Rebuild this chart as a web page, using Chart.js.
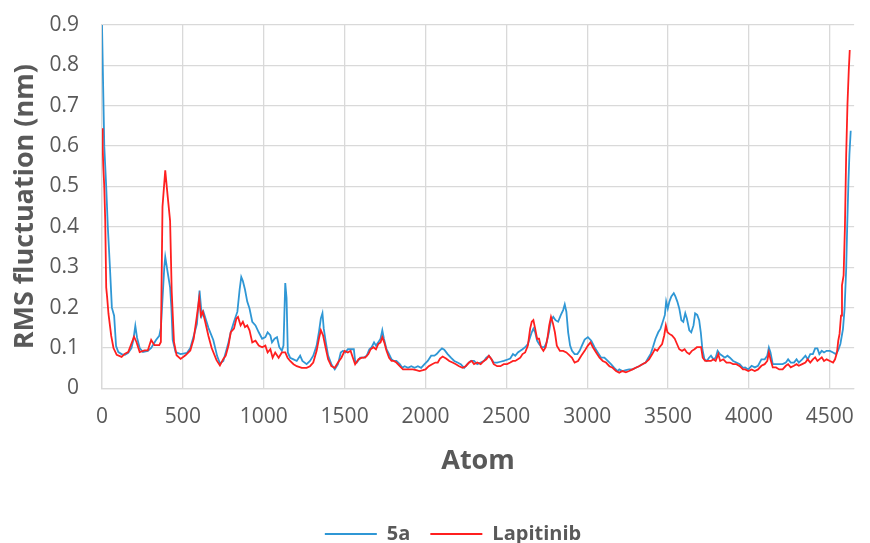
<!DOCTYPE html>
<html>
<head>
<meta charset="utf-8">
<title>RMS fluctuation</title>
<script src="https://cdn.jsdelivr.net/npm/chart.js@4.4.1/dist/chart.umd.min.js"></script>
<style>
  html, body { margin: 0; padding: 0; background: #ffffff; }
  .wrap { position: relative; width: 870px; height: 543px; }
</style>
</head>
<body>
<div class="wrap"><canvas id="rmsfChart"></canvas></div>
<script>
// RMSF per atom
const atoms5a = [
  0, 14, 26, 36, 49, 61, 75, 87, 101, 121, 142, 162, 182, 194, 206, 217, 233, 253, 283, 304,
  334, 354, 364, 374, 385, 391, 405, 409, 421, 429, 437, 455, 486, 526, 546, 567, 587, 603, 617, 627,
  658, 688, 712, 729, 750,
  765, 782, 796, 816, 837, 851, 861, 871, 884, 898, 912, 929, 949, 969, 990, 1010, 1024, 1041, 1051, 1067,
  1082, 1096, 1112, 1122, 1133, 1141, 1149, 1163, 1184, 1204, 1225, 1239, 1265, 1286, 1306, 1327, 1341, 1353, 1363, 1371,
  1384, 1398, 1418, 1439, 1459, 1476, 1490, 1504, 1520, 1541, 1557,
  1565, 1575, 1596, 1616, 1637, 1653, 1667, 1682, 1694, 1708, 1722, 1733, 1743, 1759, 1775, 1790, 1804, 1820, 1841, 1857,
  1871, 1892, 1912, 1933, 1953, 1973, 1994, 2014, 2035, 2055, 2069, 2086, 2102, 2116, 2137, 2157, 2178, 2198, 2218, 2239,
  2259, 2280, 2300, 2320, 2341, 2361, 2376, 2392,
  2408, 2422, 2443, 2463, 2484, 2504, 2524, 2541, 2555, 2571, 2586, 2600, 2616, 2633, 2647, 2657, 2667, 2678, 2690, 2702,
  2718, 2735, 2749, 2763, 2776, 2790, 2804, 2820, 2837, 2851, 2861, 2871, 2882, 2894, 2906, 2922, 2939, 2953, 2967, 2984,
  3004, 3025, 3045, 3065, 3086, 3106, 3127, 3147, 3167, 3188,
  3198, 3218, 3239, 3259, 3280, 3300, 3320, 3341, 3361, 3378, 3392, 3406, 3422, 3439, 3453, 3467, 3480, 3488, 3498, 3508,
  3520, 3535, 3545, 3557, 3569, 3582, 3594, 3606, 3616, 3631, 3643, 3657, 3667, 3680, 3692, 3702, 3712, 3725, 3739, 3753,
  3765, 3780, 3794, 3806, 3820, 3835, 3851, 3867, 3882, 3902, 3922, 3943, 3963,
  3976, 3996, 4016, 4036, 4056, 4077, 4097, 4113, 4123, 4133, 4147, 4167, 4187, 4208, 4228, 4242, 4258, 4278, 4294, 4308,
  4329, 4349, 4363, 4379, 4395, 4409, 4423, 4435, 4450, 4464, 4480, 4500, 4520, 4536, 4550, 4565, 4581, 4591, 4601, 4607,
  4615, 4621, 4629
]
const rms5a = [
  0.9, 0.6, 0.5, 0.4, 0.3, 0.2, 0.18, 0.105, 0.09, 0.085, 0.083, 0.088, 0.1, 0.12, 0.155, 0.125, 0.1, 0.09, 0.093, 0.1,
  0.12, 0.13, 0.15, 0.22, 0.3, 0.326, 0.29, 0.28, 0.25, 0.2, 0.12, 0.09, 0.085, 0.088, 0.1, 0.13, 0.16, 0.242, 0.18, 0.19,
  0.15, 0.12, 0.08, 0.062, 0.068,
  0.089, 0.114, 0.139, 0.165, 0.19, 0.245, 0.276, 0.266, 0.245, 0.215, 0.198, 0.165, 0.156, 0.139, 0.123, 0.127, 0.139, 0.131, 0.114, 0.123,
  0.127, 0.102, 0.093, 0.106, 0.261, 0.224, 0.089, 0.076, 0.072, 0.068, 0.081, 0.068, 0.06, 0.068, 0.081, 0.106, 0.139, 0.173, 0.186, 0.148,
  0.114, 0.081, 0.06, 0.047, 0.06, 0.089, 0.093, 0.089, 0.097, 0.097, 0.097,
  0.068, 0.064, 0.076, 0.076, 0.081, 0.097, 0.102, 0.114, 0.106, 0.114, 0.123, 0.144, 0.123, 0.097, 0.085, 0.072, 0.068, 0.068, 0.06, 0.051,
  0.055, 0.051, 0.055, 0.051, 0.055, 0.051, 0.06, 0.068, 0.081, 0.081, 0.085, 0.093, 0.099, 0.096, 0.085, 0.076, 0.068, 0.064, 0.06, 0.051,
  0.06, 0.068, 0.068, 0.06, 0.064, 0.068, 0.076, 0.081,
  0.072, 0.064, 0.064, 0.066, 0.068, 0.071, 0.074, 0.085, 0.081, 0.089, 0.093, 0.097, 0.102, 0.11, 0.127, 0.139, 0.148, 0.139, 0.118, 0.11,
  0.102, 0.102, 0.114, 0.139, 0.169, 0.177, 0.169, 0.165, 0.182, 0.194, 0.208, 0.19, 0.139, 0.106, 0.093, 0.085, 0.085, 0.093, 0.106, 0.121,
  0.127, 0.118, 0.102, 0.089, 0.076, 0.076, 0.068, 0.06, 0.051, 0.043,
  0.047, 0.043, 0.045, 0.047, 0.047, 0.051, 0.055, 0.06, 0.064, 0.076, 0.085, 0.102, 0.123, 0.139, 0.148, 0.165, 0.182, 0.215, 0.198, 0.215,
  0.228, 0.236, 0.228, 0.215, 0.198, 0.169, 0.165, 0.186, 0.173, 0.144, 0.139, 0.156, 0.186, 0.182, 0.169, 0.139, 0.097, 0.072, 0.068, 0.076,
  0.081, 0.072, 0.076, 0.093, 0.085, 0.081, 0.076, 0.081, 0.076, 0.068, 0.064, 0.06, 0.051,
  0.052, 0.047, 0.056, 0.052, 0.056, 0.072, 0.072, 0.081, 0.101, 0.089, 0.06, 0.06, 0.06, 0.06, 0.064, 0.072, 0.064, 0.064, 0.072, 0.064,
  0.072, 0.081, 0.072, 0.085, 0.085, 0.099, 0.099, 0.085, 0.093, 0.089, 0.093, 0.093, 0.089, 0.085, 0.093, 0.11, 0.147, 0.197, 0.297, 0.397,
  0.513, 0.58, 0.638
]

const atomsLap = [
  0, 4, 8, 14, 20, 26, 32, 40, 57, 71, 91, 121, 142, 162, 178, 198, 213, 233, 263, 283,
  304, 324, 354, 364, 374, 391, 405, 421, 431, 445, 461, 486, 516, 546, 567, 587, 601, 611, 623, 638,
  658, 678, 708, 729, 750,
  765, 782, 796, 816, 831, 841, 857, 871, 884, 898, 912, 929, 949, 969, 990, 1010, 1024, 1041, 1055, 1071,
  1092, 1112, 1133, 1147, 1163, 1184, 1204, 1235, 1265, 1286, 1306, 1327, 1341, 1353, 1367, 1382, 1398, 1418, 1439, 1459,
  1480, 1500, 1520, 1537, 1551,
  1565, 1586, 1606, 1627, 1647, 1661, 1678, 1694, 1708, 1722, 1733, 1745, 1759, 1775, 1790, 1804, 1820, 1841, 1861, 1882,
  1902, 1922, 1943, 1963, 1984, 2000, 2020, 2041, 2061, 2076, 2090, 2106, 2127, 2147, 2167, 2188, 2208, 2229, 2249, 2269,
  2286, 2300, 2320, 2341, 2361, 2376, 2392,
  2408, 2422, 2443, 2463, 2484, 2504, 2524, 2541, 2555, 2571, 2586, 2600, 2616, 2633, 2647, 2657, 2667, 2678, 2690, 2702,
  2714, 2729, 2743, 2755, 2765, 2776, 2788, 2800, 2812, 2831, 2851, 2871, 2892, 2906, 2922, 2943, 2963, 2984, 3004, 3020,
  3035, 3055, 3076, 3096, 3116, 3137, 3157, 3178,
  3198, 3218, 3239, 3259, 3280, 3300, 3320, 3341, 3361, 3382, 3402, 3418, 3433, 3447, 3463, 3476, 3486, 3496, 3508, 3524,
  3541, 3555, 3569, 3586, 3602, 3616, 3631, 3647, 3663, 3678, 3692, 3704, 3714, 3729, 3745, 3765, 3780, 3794, 3810, 3822,
  3841, 3861, 3882, 3902, 3922, 3943, 3963,
  3976, 3996, 4016, 4036, 4056, 4077, 4097, 4113, 4123, 4133, 4147, 4167, 4187, 4208, 4228, 4242, 4258, 4278, 4294, 4308,
  4329, 4349, 4363, 4379, 4395, 4409, 4423, 4435, 4450, 4464, 4480, 4500, 4520, 4532, 4544, 4552, 4560, 4569, 4575, 4585,
  4593, 4601, 4609, 4617, 4623
]
const rmsLap = [
  0.644, 0.6, 0.55, 0.5, 0.415, 0.25, 0.225, 0.185, 0.13, 0.1, 0.083, 0.078, 0.086, 0.09, 0.107, 0.128, 0.115, 0.09, 0.094, 0.094,
  0.12, 0.107, 0.107, 0.115, 0.45, 0.54, 0.48, 0.415, 0.24, 0.115, 0.082, 0.073, 0.082, 0.094, 0.123, 0.18, 0.223, 0.18, 0.19, 0.165,
  0.13, 0.1, 0.07, 0.057, 0.073,
  0.081, 0.106, 0.139, 0.148, 0.173, 0.177, 0.156, 0.165, 0.152, 0.156, 0.144, 0.114, 0.118, 0.106, 0.102, 0.106, 0.089, 0.097, 0.076, 0.089,
  0.076, 0.089, 0.089, 0.076, 0.068, 0.06, 0.055, 0.051, 0.051, 0.055, 0.064, 0.093, 0.123, 0.144, 0.131, 0.102, 0.072, 0.055, 0.051, 0.064,
  0.076, 0.093, 0.089, 0.093, 0.076,
  0.06, 0.072, 0.076, 0.076, 0.085, 0.097, 0.102, 0.097, 0.11, 0.114, 0.127, 0.114, 0.093, 0.076, 0.068, 0.068, 0.064, 0.055, 0.047, 0.047,
  0.047, 0.047, 0.045, 0.043, 0.045, 0.047, 0.055, 0.06, 0.064, 0.064, 0.074, 0.079, 0.074, 0.068, 0.064, 0.06, 0.055, 0.051, 0.055, 0.064,
  0.068, 0.06, 0.064, 0.06, 0.068, 0.072, 0.081,
  0.072, 0.06, 0.055, 0.055, 0.06, 0.06, 0.064, 0.068, 0.068, 0.072, 0.076, 0.085, 0.089, 0.106, 0.148, 0.165, 0.169, 0.148, 0.123, 0.123,
  0.102, 0.093, 0.102, 0.127, 0.156, 0.177, 0.161, 0.139, 0.106, 0.093, 0.093, 0.089, 0.081, 0.076, 0.064, 0.068, 0.081, 0.093, 0.106, 0.114,
  0.102, 0.089, 0.076, 0.068, 0.064, 0.055, 0.051, 0.043,
  0.039, 0.043, 0.04, 0.043, 0.047, 0.051, 0.055, 0.06, 0.064, 0.072, 0.085, 0.097, 0.093, 0.102, 0.11, 0.131, 0.156, 0.139, 0.135, 0.131,
  0.123, 0.11, 0.097, 0.093, 0.097, 0.089, 0.085, 0.093, 0.097, 0.102, 0.102, 0.102, 0.076, 0.068, 0.068, 0.068, 0.072, 0.068, 0.085, 0.068,
  0.072, 0.064, 0.064, 0.06, 0.06, 0.055, 0.047,
  0.047, 0.043, 0.047, 0.043, 0.047, 0.056, 0.06, 0.068, 0.089, 0.072, 0.052, 0.052, 0.047, 0.047, 0.056, 0.06, 0.052, 0.056, 0.06, 0.056,
  0.06, 0.064, 0.072, 0.064, 0.072, 0.077, 0.068, 0.072, 0.077, 0.068, 0.072, 0.068, 0.064, 0.072, 0.089, 0.118, 0.135, 0.18, 0.255, 0.28,
  0.397, 0.58, 0.705, 0.788, 0.838
]

const xTickValues = [0, 500, 1000, 1500, 2000, 2500, 3000, 3500, 4000, 4500]
const seriesNames = ["5a", "Lapitinib"]
const seriesColors = ["#2F97D5", "#FF1F1F"]

const toPoints = (xs, ys) => xs.map((x, i) => ({ x: x, y: ys[i] }))

const axisGray = "#595959"
const gridGray = "#D9D9D9"
const fontFamily = "'Open Sans', 'DejaVu Sans', sans-serif"

// nudge the legend a little to the right, like the original figure
const legendShift = {
  id: "legendShift",
  afterLayout(chart) {
    const lg = chart.legend
    if (!lg) return
    lg.left += 20
    lg.right += 20
  },
}

new Chart(document.getElementById("rmsfChart").getContext("2d"), {
  type: "line",
  data: {
    datasets: [
      {
        label: seriesNames[0],
        data: toPoints(atoms5a, rms5a),
        borderColor: seriesColors[0],
        backgroundColor: seriesColors[0],
        borderWidth: 1.8,
        pointRadius: 0,
        tension: 0,
        order: 2,
      },
      {
        label: seriesNames[1],
        data: toPoints(atomsLap, rmsLap),
        borderColor: seriesColors[1],
        backgroundColor: seriesColors[1],
        borderWidth: 1.8,
        pointRadius: 0,
        tension: 0,
        order: 1,
      },
    ],
  },
  plugins: [legendShift],
  options: {
    responsive: true,
    maintainAspectRatio: false,
    animation: false,
    layout: {
      padding: { top: 25, right: 4, bottom: -11, left: 0 },
    },
    plugins: {
      tooltip: { enabled: false },
      legend: {
        position: "bottom",
        labels: {
          usePointStyle: true,
          pointStyle: "line",
          pointStyleWidth: 52,
          boxHeight: 20,
          padding: 20,
          color: axisGray,
          font: { family: fontFamily, size: 20, weight: "bold" },
          sort: (a, b) => a.datasetIndex - b.datasetIndex,
        },
      },
    },
    scales: {
      x: {
        type: "linear",
        min: 0,
        max: 4650,
        afterBuildTicks: (axis) => {
          axis.ticks = xTickValues.map((v) => ({ value: v }))
        },
        grid: { color: gridGray, lineWidth: 1.3, drawTicks: false },
        border: { color: gridGray, width: 1.3 },
        ticks: {
          padding: 16,
          maxRotation: 0,
          autoSkip: false,
          color: axisGray,
          font: { family: fontFamily, size: 21 },
          callback: (v) => String(v),
        },
        title: {
          display: true,
          text: "Atom",
          color: axisGray,
          padding: { top: 0, bottom: 26 },
          font: { family: fontFamily, size: 27, weight: "bold" },
        },
      },
      y: {
        min: 0,
        max: 0.9,
        afterFit: (scale) => {
          scale.width = 102
          scale.paddingTop = 0
          scale.paddingBottom = 0
        },
        grid: { color: gridGray, lineWidth: 1.3, drawTicks: false },
        border: { color: gridGray, width: 1.3 },
        ticks: {
          stepSize: 0.1,
          padding: 23,
          color: axisGray,
          font: { family: fontFamily, size: 21 },
        },
        title: {
          display: true,
          text: "RMS fluctuation (nm)",
          color: axisGray,
          padding: { top: 9, bottom: 11 },
          font: { family: fontFamily, size: 27, weight: "bold" },
        },
      },
    },
  },
})
</script>
</body>
</html>
